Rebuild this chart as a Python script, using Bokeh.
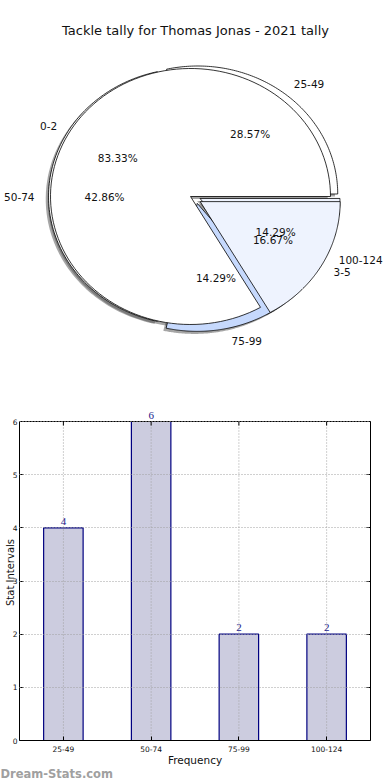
import numpy as np
from bokeh.plotting import figure
from bokeh.models import (ColumnDataSource, Range1d, FactorRange, Label, LabelSet,
                          LinearAxis, FixedTicker, Span)
from bokeh.core.properties import value
from bokeh.embed import file_html
from bokeh.resources import INLINE

# ---------------- data ----------------
title_text = "Tackle tally for Thomas Jonas - 2021 tally"

pie1_labels = ["25-49", "50-74", "75-99", "100-124"]
pie1_values = [4, 6, 2, 2]

pie2_labels = ["0-2", "3-5"]
pie2_values = [5, 1]

bar_categories = ["25-49", "50-74", "75-99", "100-124"]
bar_counts = [4, 6, 2, 2]
y_ticks = [0, 1, 2, 3, 4, 5, 6]
y_max = 6

x_label_text = "Frequency"
y_label_text = "Stat Intervals"
watermark_text = "Dream-Stats.com"

# ---------------- style ----------------
FONT = value("DejaVu Sans")
pie1_colors = ["#ffffff", "#ffffff", "#c6d9fd", "#eef3fe"]
pie1_explode = [0.025, 0.05, 0.055, 0.035]
pie1_center = (0.036, 0.0)
pie2_colors = ["#ffffff", "#eef3fe"]
pie2_explode = [0.0, 0.08]
pie2_center = (0.0, 0.0)


def build_pie(values, explode, center, colors):
    vals = np.asarray(values, dtype=float)
    frac = vals / vals.sum()
    edges = np.concatenate([[0.0], np.cumsum(frac)]) * 2 * np.pi
    wx, wy, sx, sy = [], [], [], []
    lx, ly, la, px, py, pt = [], [], [], [], [], []
    for i in range(len(vals)):
        t1, t2 = edges[i], edges[i + 1]
        tm = 0.5 * (t1 + t2)
        cx = center[0] + explode[i] * np.cos(tm)
        cy = center[1] + explode[i] * np.sin(tm)
        a = np.linspace(t1, t2, 120)
        xs = np.concatenate([[cx], cx + np.cos(a), [cx]])
        ys = np.concatenate([[cy], cy + np.sin(a), [cy]])
        wx.append(xs.tolist()); wy.append(ys.tolist())
        sx.append((xs - 0.02).tolist()); sy.append((ys - 0.02).tolist())
        tx = cx + 1.1 * np.cos(tm)
        lx.append(tx); ly.append(cy + 1.1 * np.sin(tm))
        la.append("left" if tx > 0 else "right")
        px.append(cx + 0.6 * np.cos(tm)); py.append(cy + 0.6 * np.sin(tm))
        pt.append("%.2f%%" % (frac[i] * 100))
    return dict(wx=wx, wy=wy, sx=sx, sy=sy, colors=list(colors),
                lx=lx, ly=ly, la=la, px=px, py=py, pt=pt)


p1 = build_pie(pie1_values, pie1_explode, pie1_center, pie1_colors)
p2 = build_pie(pie2_values, pie2_explode, pie2_center, pie2_colors)

# ---------------- pie figure ----------------
PW, PH = 390, 392
CX, CY, RX, RY = 190, 196, 140, 128
pie = figure(width=PW, height=PH, x_range=Range1d(-CX / RX, (PW - CX) / RX),
             y_range=Range1d(-(PH - CY) / RY, CY / RY),
             x_axis_location=None, y_axis_location=None,
             output_backend="svg", toolbar_location=None, min_border=0)
pie.grid.visible = False
pie.outline_line_color = None

for d in (p1, p2):
    pie.patches(xs=d["sx"], ys=d["sy"], fill_color="#4d4d4d", fill_alpha=0.5,
                line_color=None)
for d in (p1, p2):
    pie.patches(xs=d["wx"], ys=d["wy"], fill_color=d["colors"],
                line_color="black", line_width=0.8)
for d, labs in ((p1, pie1_labels), (p2, pie2_labels)):
    src = ColumnDataSource(dict(x=d["lx"], y=d["ly"], t=labs, a=d["la"]))
    pie.text(x="x", y="y", text="t", text_align="a", text_baseline="middle",
             text_font=FONT, text_font_size="10.5px", text_color="#111111",
             source=src)
    src2 = ColumnDataSource(dict(x=d["px"], y=d["py"], t=d["pt"]))
    pie.text(x="x", y="y", text="t", text_align="center", text_baseline="middle",
             text_font=FONT, text_font_size="10.5px", text_color="#111111",
             source=src2)

pie.add_layout(Label(x=(195 - CX) / RX, y=(CY - 30) / RY, text=title_text,
                     text_align="center", text_baseline="middle",
                     text_font="DejaVu Sans", text_font_size="13px",
                     text_color="#111111"))

# ---------------- bar figure ----------------
BW, BH = 390, 780 - PH
FRAME_H_DATA = 319          # px from 0 to y_max
TOP_PAD = 17                # px of frame above y_max (room for value labels)
px_per_unit = FRAME_H_DATA / y_max
bar = figure(width=BW, height=BH, x_range=FactorRange(factors=bar_categories),
             y_range=Range1d(0, y_max + TOP_PAD / px_per_unit),
             output_backend="svg", toolbar_location=None,
             min_border_left=19, min_border_right=20,
             min_border_top=421 - PH - TOP_PAD, min_border_bottom=40,
             title_location="below")
bar.outline_line_color = None
bar.xgrid.visible = False

src_bar = ColumnDataSource(dict(cat=bar_categories, cnt=bar_counts,
                                txt=[str(c) for c in bar_counts]))
bar.vbar(x="cat", top="cnt", width=0.45, source=src_bar, fill_color="#ccccdf",
         line_color="#000080", line_width=1.2)

grid_style = dict(line_color="#a0a0a0", line_dash="1 2", line_width=1)
bar.segment(x0=bar_categories, x1=bar_categories, y0=[0] * len(bar_categories),
            y1=[y_max] * len(bar_categories), **grid_style)
bar.ygrid.ticker = FixedTicker(ticks=y_ticks)
bar.ygrid.grid_line_color = "#a0a0a0"
bar.ygrid.grid_line_dash = "1 2"
bar.ygrid.level = "overlay"

bar.add_layout(Span(location=y_max, dimension="width", line_color="black",
                    line_width=1))
bar.segment(x0=bar_categories, x1=bar_categories, y0=[y_max] * len(bar_categories),
            y1=[y_max - 4 / px_per_unit] * len(bar_categories), line_color="black",
            line_width=1)

for ax in (bar.xaxis, bar.yaxis):
    ax.major_tick_in = 4
    ax.major_tick_out = 0
    ax.minor_tick_line_color = None
    ax.axis_line_color = "black"
    ax.major_label_text_font = "DejaVu Sans"
    ax.major_label_text_font_size = "7.5px"
    ax.major_label_text_color = "#111111"
    ax.axis_label_text_font = "DejaVu Sans"
    ax.axis_label_text_font_size = "10.5px"
    ax.axis_label_text_font_style = "normal"
    ax.axis_label_text_color = "#111111"
bar.xaxis.major_label_standoff = 5
bar.xaxis.axis_label_standoff = -1
bar.yaxis.major_label_standoff = 2
bar.yaxis.axis_label_standoff = -6
bar.yaxis.axis_label_text_font_size = "10px"
bar.yaxis.ticker = FixedTicker(ticks=y_ticks)
bar.yaxis.bounds = (0, y_max)
bar.xaxis.axis_label = x_label_text
bar.yaxis.axis_label = y_label_text

rax = LinearAxis(ticker=FixedTicker(ticks=y_ticks), major_tick_in=4, major_tick_out=0,
                 minor_tick_line_color=None, bounds=(0, y_max),
                 major_label_overrides={t: "" for t in y_ticks},
                 major_label_text_font_size="1px",
                 major_label_standoff=0, axis_line_color="black")
bar.add_layout(rax, "right")

bar.add_layout(LabelSet(x="cat", y="cnt", text="txt", source=src_bar,
                        text_align="center", text_baseline="bottom", y_offset=3,
                        text_font="DejaVu Sans", text_font_size="11px",
                        text_color="#1a1a8c"))

bar.title.text = watermark_text
bar.title.align = "left"
bar.title.offset = -19
bar.title.standoff = -8
bar.title.text_font = "DejaVu Sans"
bar.title.text_font_size = "11.5px"
bar.title.text_font_style = "bold"
bar.title.text_color = "#a0a0a0"

open("out.html", "w").write(file_html([pie, bar], INLINE))
